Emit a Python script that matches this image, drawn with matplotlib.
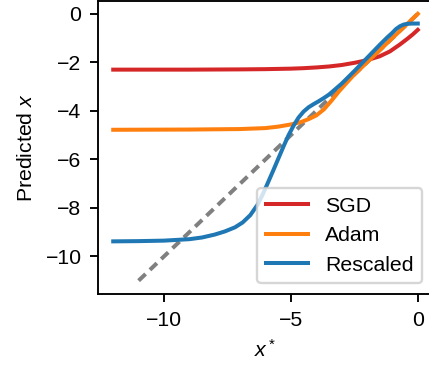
import numpy as np
import matplotlib
matplotlib.use("Agg")
import matplotlib.pyplot as plt

plt.rcParams['font.family'] = ['Liberation Sans', 'DejaVu Sans']
plt.rcParams['font.size'] = 9
plt.rcParams['mathtext.fontset'] = 'custom'
plt.rcParams['mathtext.rm'] = 'Liberation Sans'
plt.rcParams['mathtext.it'] = 'Liberation Sans:italic'

# values
sgd_x = [-12, -9, -7, -6, -5, -4.5, -4, -3.5, -3, -2.5, -2, -1.5, -1.1, -0.7, -0.4, -0.2, 0]
sgd_y = [-2.30, -2.30, -2.29, -2.28, -2.26, -2.24, -2.21, -2.17, -2.11, -2.02, -1.91, -1.75,
         -1.55, -1.26, -1.02, -0.85, -0.66]

adam_x = [-12, -9, -7, -6, -5.5, -5.0, -4.6, -4.3, -4.0, -3.7, -3.4, -3.1, -2.8, -2.5, -2.0, -1.0, 0]
adam_y = [-4.78, -4.77, -4.75, -4.71, -4.65, -4.56, -4.46, -4.34, -4.19, -3.94, -3.58, -3.19,
          -2.84, -2.5, -2.0, -1.0, 0.0]

resc_x = [-12, -11, -10, -9, -8.5, -8, -7.6, -7.2, -6.9, -6.6, -6.3, -6.1, -5.9, -5.7, -5.5,
          -5.3, -5.1, -4.9, -4.7, -4.5, -4.3, -4.1, -3.9, -3.7, -3.5, -3.3, -3.0, -2.5, -2.0,
          -1.5, -1.2, -1.0, -0.85, -0.7, -0.55, -0.4, -0.2, 0]
resc_y = [-9.38, -9.37, -9.35, -9.29, -9.22, -9.10, -8.97, -8.80, -8.60, -8.30, -7.85, -7.42,
          -6.95, -6.47, -5.98, -5.49, -5.02, -4.62, -4.28, -4.03, -3.85, -3.72, -3.60, -3.47,
          -3.33, -3.15, -2.88, -2.36, -1.82, -1.28, -0.97, -0.78, -0.62, -0.51, -0.44, -0.41,
          -0.40, -0.40]

ideal_x = [-11, 0]
ideal_y = [-11, 0]

x_ticks = [-10, -5, 0]
y_ticks = [-10, -8, -6, -4, -2, 0]

fig = plt.figure(figsize=(429 / 170, 365 / 170), dpi=170)
ax = fig.add_axes([98 / 429, 71 / 365, 335 / 429, 293.5 / 365])

ax.plot(ideal_x, ideal_y, color='gray', lw=1.7, ls=(0, (2.4, 1.5)))
ax.plot(sgd_x, sgd_y, color='tab:red', lw=1.7, label='SGD')
ax.plot(adam_x, adam_y, color='tab:orange', lw=1.7, label='Adam')
ax.plot(resc_x, resc_y, color='tab:blue', lw=1.7, label='Rescaled')

ax.set_xticks(x_ticks)
ax.set_yticks(y_ticks)
ax.set_xlabel('$x^*$')
ax.set_ylabel('Predicted $x$')
ax.legend(loc='lower right')

fig.savefig('out.png', dpi=170)
